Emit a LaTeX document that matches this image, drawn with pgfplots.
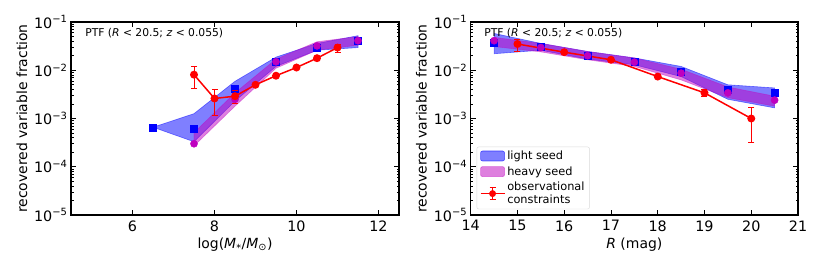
\documentclass[border=0pt]{standalone}
\usepackage{fontspec}
\setmainfont{DejaVu Sans}
\usepackage{pgfplots}
\pgfplotsset{compat=1.18}
\definecolor{mag}{RGB}{191,0,191}
\tikzset{
  rkbandb/.style={fill=blue, fill opacity=0.5, draw=blue, draw opacity=0.5, line width=0.6bp},
  rkbandm/.style={fill=mag, fill opacity=0.5, draw=mag, draw opacity=0.4, line width=0.6bp},
  rksq/.style={only marks, mark=square*, mark size=3.5bp, blue},
  rkci/.style={only marks, mark=*, mark size=3.6bp, mag},
  rkobs/.style={red, line width=1.5bp, mark=*, mark size=3.2bp, mark options={solid}},
  rkeb/.style={red, line width=1bp, mark=-, mark size=3bp},
}
\begin{document}
\begin{tikzpicture}[x=1bp,y=1bp]
\useasboundingbox (0,0) rectangle (814,271);
% ---------------- left panel
\begin{axis}[at={(71bp,56bp)},
    scale only axis, width=328bp, height=193bp, anchor=south west,
    ymode=log, ymin=1e-5, ymax=1e-1,
    ytick={1e-5,1e-4,1e-3,1e-2,1e-1},
    yticklabels={10\textsuperscript{−5},10\textsuperscript{−4},10\textsuperscript{−3},10\textsuperscript{−2},10\textsuperscript{−1}},
    minor ytick={2e-5,3e-5,4e-5,5e-5,6e-5,7e-5,8e-5,9e-5,2e-4,3e-4,4e-4,5e-4,6e-4,7e-4,8e-4,9e-4,2e-3,3e-3,4e-3,5e-3,6e-3,7e-3,8e-3,9e-3,2e-2,3e-2,4e-2,5e-2,6e-2,7e-2,8e-2,9e-2},
    /pgf/number format/assume math mode=true,
    tick label style={font=\fontsize{14.4}{16}\selectfont},
    xticklabel style={yshift=-2bp},
    label style={font=\fontsize{14}{16}\selectfont},
    ylabel={recovered variable fraction},
    tick align=inside, major tick length=5bp, minor tick length=2.5bp,
    tick style={black, line width=0.8bp},
    axis line style={line width=1.5bp},
  xmin=4.5, xmax=12.5, xtick={6,8,10,12},
  xlabel={log(\textit{M}\textsubscript{*}/\textit{M}\textsubscript{⊙})}]
\addplot[rkbandb] coordinates {(6.5,6.6e-4) (7.5,1.26e-3) (8.5,5.9e-3) (9.5,1.87e-2) (10.5,3.6e-2) (11.5,5.2e-2)
  (11.5,2.95e-2) (10.5,2.6e-2) (9.5,1.2e-2) (8.5,2.3e-3) (7.5,3.3e-4) (6.5,6.6e-4)};
\addplot[rkbandm] coordinates {(7.5,5.1e-4) (8.5,3.4e-3) (9.5,1.7e-2) (10.5,3.9e-2) (11.5,5.0e-2)
  (11.5,3.3e-2) (10.5,2.6e-2) (9.5,1.1e-2) (8.5,1.8e-3) (7.5,2.7e-4) (7.5,5.1e-4)};
\addplot[rksq] coordinates {(6.5,6.6e-4) (7.5,6.1e-4) (8.5,4.1e-3) (9.5,1.5e-2) (10.5,2.95e-2) (11.5,4.1e-2)};
\addplot[rkci] coordinates {(7.5,3.0e-4) (8.5,2.5e-3) (9.5,1.5e-2) (10.5,3.2e-2) (11.5,4.1e-2)};
\addplot[rkeb] coordinates {(7.5,4.1e-3) (7.5,1.2e-2)};
\addplot[rkeb] coordinates {(8,1.15e-3) (8,4.0e-3)};
\addplot[rkeb] coordinates {(8.5,2.0e-3) (8.5,3.8e-3)};
\addplot[rkeb] coordinates {(11,2.33e-2) (11,3.5e-2)};
\addplot[rkobs] coordinates {(7.5,8.1e-3) (8,2.6e-3) (8.5,2.9e-3) (9,5.0e-3) (9.5,7.7e-3) (10,1.14e-2) (10.5,1.78e-2) (11,2.95e-2)};
\node[anchor=west, font=\fontsize{10.8}{12}\selectfont, inner sep=0pt] at (rel axis cs:0.043,0.943) {PTF (\textit{R} < 20.5; \textit{z} < 0.055)};
\end{axis}
% ---------------- right panel
\begin{axis}[at={(470.7bp,56bp)},
    scale only axis, width=327.3bp, height=193bp, anchor=south west,
    ymode=log, ymin=1e-5, ymax=1e-1,
    ytick={1e-5,1e-4,1e-3,1e-2,1e-1},
    yticklabels={10\textsuperscript{−5},10\textsuperscript{−4},10\textsuperscript{−3},10\textsuperscript{−2},10\textsuperscript{−1}},
    minor ytick={2e-5,3e-5,4e-5,5e-5,6e-5,7e-5,8e-5,9e-5,2e-4,3e-4,4e-4,5e-4,6e-4,7e-4,8e-4,9e-4,2e-3,3e-3,4e-3,5e-3,6e-3,7e-3,8e-3,9e-3,2e-2,3e-2,4e-2,5e-2,6e-2,7e-2,8e-2,9e-2},
    /pgf/number format/assume math mode=true,
    tick label style={font=\fontsize{14.4}{16}\selectfont},
    xticklabel style={yshift=-2bp},
    label style={font=\fontsize{14}{16}\selectfont},
    ylabel={recovered variable fraction},
    tick align=inside, major tick length=5bp, minor tick length=2.5bp,
    tick style={black, line width=0.8bp},
    axis line style={line width=1.5bp},
  xmin=14, xmax=21, xtick={14,15,16,17,18,19,20,21},
  xlabel={\textit{R} (mag)},
  legend style={at={(0.018,0.03)}, anchor=south west, draw=black!15, rounded corners=2bp,
    font=\fontsize{11.4}{12.8}\selectfont, cells={anchor=west, align=left},
    inner xsep=3bp, inner ysep=2bp, row sep=1.5bp},
  legend cell align=left]
\addplot[rkbandb, forget plot] coordinates {(14.5,5.8e-2) (15.5,3.6e-2) (16.5,2.45e-2) (17.5,1.8e-2) (18.5,1.2e-2) (19.5,5.0e-3) (20.5,4.3e-3)
  (20.5,1.66e-3) (19.5,2.5e-3) (18.5,7.4e-3) (17.5,1.3e-2) (16.5,1.7e-2) (15.5,2.6e-2) (14.5,2.2e-2) (14.5,5.8e-2)};
\addplot[rkbandm, forget plot] coordinates {(14.5,4.8e-2) (15.5,3.6e-2) (16.5,2.45e-2) (17.5,1.8e-2) (18.5,1.05e-2) (19.5,4.5e-3) (20.5,2.9e-3)
  (20.5,1.8e-3) (19.5,2.7e-3) (18.5,6.3e-3) (17.5,1.2e-2) (16.5,1.65e-2) (15.5,2.4e-2) (14.5,3.1e-2) (14.5,4.8e-2)};
\addplot[rksq, forget plot] coordinates {(14.5,3.75e-2) (15.5,3.1e-2) (16.5,2.0e-2) (17.5,1.5e-2) (18.5,9.5e-3) (19.5,4.0e-3) (20.5,3.4e-3)};
\addplot[rkci, forget plot] coordinates {(14.5,4.1e-2) (15.5,2.95e-2) (16.5,2.0e-2) (17.5,1.47e-2) (18.5,8.7e-3) (19.5,3.4e-3) (20.5,2.4e-3)};
\addplot[rkeb, forget plot] coordinates {(15,2.5e-2) (15,4.4e-2)};
\addplot[rkeb, forget plot] coordinates {(19,2.8e-3) (19,4.0e-3)};
\addplot[rkeb, forget plot] coordinates {(20,3.2e-4) (20,1.7e-3)};
\addplot[rkobs, forget plot] coordinates {(15,3.5e-2) (16,2.37e-2) (17,1.65e-2) (18,7.4e-3) (19,3.4e-3) (20,1.0e-3)};
\node[anchor=west, font=\fontsize{10.8}{12}\selectfont, inner sep=0pt] at (rel axis cs:0.041,0.943) {PTF (\textit{R} < 20.5; \textit{z} < 0.055)};
\addlegendimage{legend image code/.code={\filldraw[fill=blue, draw=blue, fill opacity=0.5, draw opacity=0.6, line width=0.6bp] (0bp,-5bp) rectangle (24bp,5bp);}}
\addlegendentry{light seed}
\addlegendimage{legend image code/.code={\filldraw[fill=mag, draw=mag, fill opacity=0.5, draw opacity=0.5, line width=0.6bp] (0bp,-5bp) rectangle (24bp,5bp);}}
\addlegendentry{heavy seed}
\addlegendimage{legend image code/.code={
  \draw[red, line width=1.5bp] (0bp,0bp) -- (24bp,0bp);
  \draw[red, line width=1bp] (12bp,-6bp) -- (12bp,6bp);
  \draw[red, line width=1bp] (9bp,-6bp) -- (15bp,-6bp);
  \draw[red, line width=1bp] (9bp,6bp) -- (15bp,6bp);
  \fill[red] (12bp,0bp) circle (3.2bp);}}
\addlegendentry{observational\\constraints}
\end{axis}
\end{tikzpicture}
\end{document}
